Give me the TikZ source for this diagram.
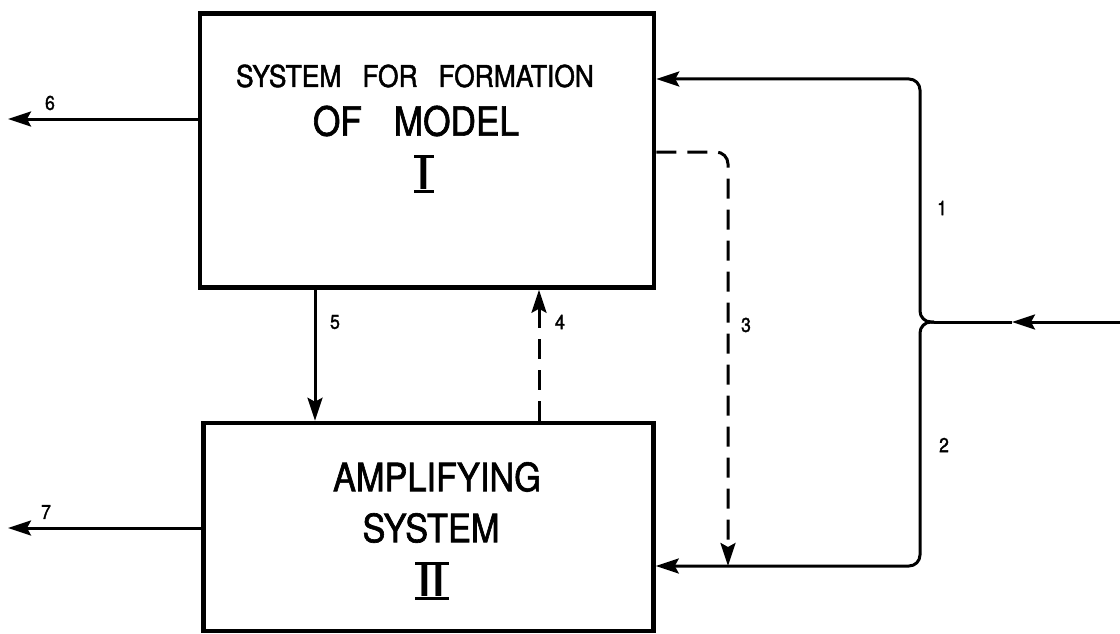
\documentclass[tikz,border=0pt]{standalone}
\usepackage{fontspec}
\setmainfont{TeX Gyre Heros}
\newfontfamily\lettering[FakeStretch=0.88,FakeBold=1.6]{TeX Gyre Heros}
\newfontfamily\numfont[FakeStretch=0.88]{TeX Gyre Heros}
\usetikzlibrary{arrows.meta}
\newcommand\wordgap{\hspace{0.7em}}
\begin{document}
\begin{tikzpicture}[x=1pt,y=-1pt,
  block/.style={draw, line width=4.5pt, inner sep=0pt},
  flow/.style={line width=3pt, -{Stealth[length=23pt,width=15pt,inset=4pt]}},
  dflow/.style={flow, dash pattern=on 20pt off 11pt},
  tag/.style={font=\lettering\fontsize{20}{20}\selectfont, inner sep=0pt},
  title/.style={font=\lettering\fontsize{#1}{#1}\selectfont, inner sep=0pt},
  numeral/.style={font=\numfont\bfseries\fontsize{44}{44}\selectfont, inner xsep=4pt, inner ysep=1.5pt, text height=31pt, text depth=0pt},
  bar/.style={line width=3pt}
]
\useasboundingbox (0,0) rectangle (1120,634);

% the two system blocks
\node[block, minimum width=454pt, minimum height=274pt] (b1) at (427,150.5) {};
\node[block, minimum width=450pt, minimum height=208pt] (b2) at (428.5,527) {};

% block texts
\node[title=30] (t1) at (415,76) {SYSTEM\wordgap FOR\wordgap FORMATION};
\node[title=40] (t2) at (416,121) {OF\hspace{0.8em}MODEL};
\node[numeral] (n1) at (424,174) {I};
\draw[bar] (n1.north west) -- (n1.north east);
\draw[bar] (n1.south west) -- (n1.south east);

\node[title=39] (t3) at (437,477) {AMPLIFYING};
\node[title=39] (t4) at (431,528) {SYSTEM};
\node[numeral] (n2) at (432,581) {I\hspace{4pt}I};
\draw[bar] (n2.north west) -- (n2.north east);
\draw[bar] (n2.south west) -- (n2.south east);

% waypoints
\coordinate (in) at (1120,322);
\coordinate (mid) at (1012,322);
\coordinate (j) at (934,322);
\coordinate (r1) at (920,79);
\coordinate (r2) at (920,566);
\coordinate (d3) at (728,152);
\coordinate (x5) at (315,0);
\coordinate (x4) at (539,0);
\coordinate (o6) at (8,119);
\coordinate (o7) at (8,528);

% external input splitting into branches 1 and 2
\draw[flow] (in) -- (mid);
\draw[line width=3pt] (mid) -- (j);
\draw[flow, rounded corners=11pt] (j) -- (j -| r1) -- (r1) -- (b1.east |- r1);
\draw[flow, rounded corners=11pt] (j) -- (j -| r2) -- (r2) -- (b2.east |- r2);

% links between the blocks
\draw[dflow, rounded corners=12pt] (b1.east |- d3) -- (d3) -- (d3 |- r2);
\draw[flow] (b1.south -| x5) -- (b2.north -| x5);
\draw[dflow] (b2.north -| x4) -- (b1.south -| x4);

% outputs
\draw[flow] (b1.west |- o6) -- (o6);
\draw[flow] (b2.west |- o7) -- (o7);

% connector numbers
\node[tag] (l1) at (942,208) {1};
\node[tag] (l2) at (944,445) {2};
\node[tag] (l3) at (746,325) {3};
\node[tag] (l4) at (560,322) {4};
\node[tag] (l5) at (335,322) {5};
\node[tag] (l6) at (50,103) {6};
\node[tag] (l7) at (46,512) {7};
\end{tikzpicture}
\end{document}
